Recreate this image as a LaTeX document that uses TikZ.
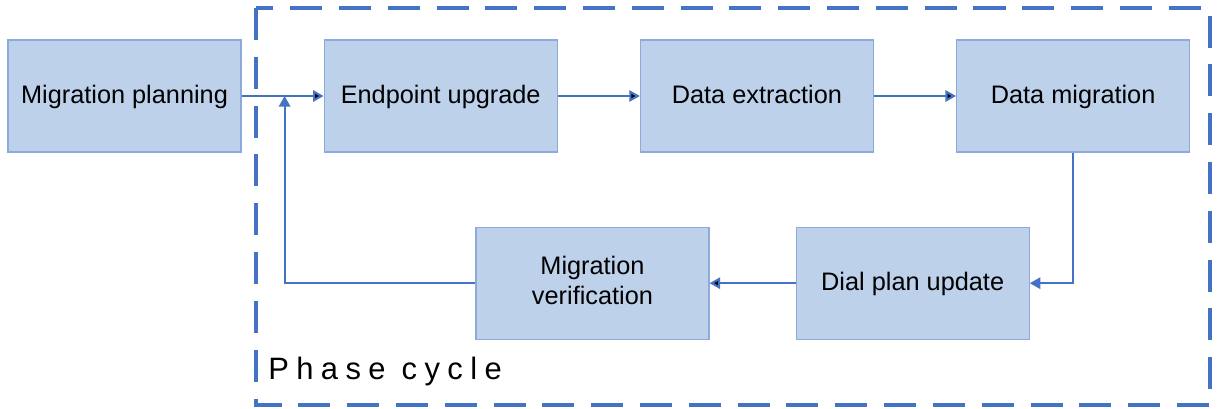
\documentclass[tikz,border=0pt]{standalone}
\usepackage{fontspec}
\setmainfont{Liberation Sans}
\newfontfamily\spacedfont[LetterSpace=24]{Liberation Sans}
\usetikzlibrary{arrows.meta, positioning}
\definecolor{linkblue}{HTML}{4472C4}
\definecolor{boxfill}{HTML}{BDD1EA}
\definecolor{boxline}{HTML}{8EA9DB}
\newcommand{\boxstrut}{\rule[-4pt]{0pt}{18pt}}

\begin{document}
\begin{tikzpicture}[x=0.025cm, y=-0.025cm, >={Triangle[length=7.5pt,width=8pt]}, node distance=2.05cm]
\tikzstyle{phase}=[draw=boxline, fill=boxfill, line width=0.8pt, minimum width=5.825cm, minimum height=2.8cm, align=center, font=\fontsize{18}{21.5}\selectfont, inner sep=0pt, execute at begin node=\boxstrut]
\tikzstyle{link}=[->, draw=linkblue, line width=1.5pt]
\tikzstyle{frame}=[draw=linkblue, line width=2.2pt, dash pattern=on 0.8cm off 0.42cm]

\useasboundingbox (0,0) rectangle (1217,408);

\node[phase] (plan) at (124.5,96) {Migration planning};
\node[phase] (endpoint) [right=of plan] {Endpoint upgrade};
\node[phase] (extract) [right=of endpoint] {Data extraction};
\node[phase] (migrate) [right=of extract] {Data migration};
\node[phase] (dial) [below=1.85cm of migrate, xshift=-4.01cm] {Dial plan update};
\node[phase] (verify) [left=2.15cm of dial] {Migration\\verification};
\path (plan.east) ++(1.075cm,0) coordinate (back);

% phase cycle frame
\draw[frame] (256,8) rectangle (1210,405);
\node[anchor=base west, inner sep=0pt, font=\fontsize{22}{26}\spacedfont] (cycle) at (268,379) {Phase cycle};

\path[link]
(plan) edge (endpoint)
(endpoint) edge (extract)
(extract) edge (migrate)
(dial) edge (verify);
\draw[link] (migrate.south) |- (dial.east);
\draw[link] (verify.west) -| (back);
\end{tikzpicture}
\end{document}
